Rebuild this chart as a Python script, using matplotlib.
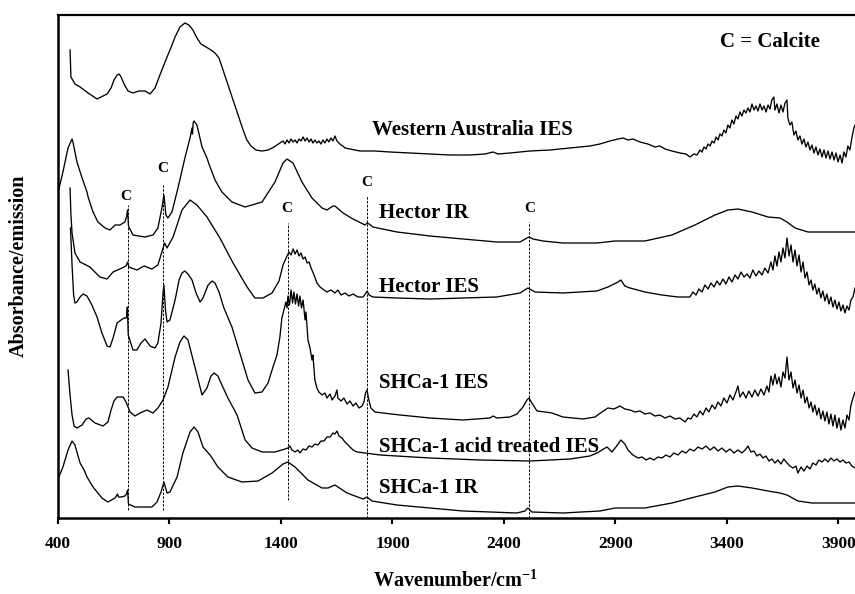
import numpy as np
import matplotlib
matplotlib.use("Agg")
import matplotlib.pyplot as plt

plt.rcParams["font.family"] = ["Liberation Serif", "DejaVu Serif"]
plt.rcParams["font.weight"] = "bold"
plt.rcParams["mathtext.fontset"] = "custom"
plt.rcParams["mathtext.rm"] = "Liberation Serif"
plt.rcParams["mathtext.bf"] = "Liberation Serif:bold"

# (wavenumber / cm-1, stacked absorbance / emission in arbitrary units)
western_australia_ies = [
    (454, 4.68), (458, 4.41), (476, 4.34), (499, 4.31), (535, 4.25), (575, 4.19),
    (602, 4.22), (620, 4.24), (638, 4.30), (651, 4.38), (665, 4.43), (674, 4.44),
    (683, 4.41), (696, 4.34), (714, 4.27), (736, 4.25), (763, 4.27), (790, 4.27),
    (813, 4.24), (835, 4.30), (857, 4.43), (880, 4.56), (902, 4.68), (925, 4.81),
    (947, 4.91), (969, 4.95), (987, 4.93), (1005, 4.88), (1023, 4.80), (1041, 4.74),
    (1064, 4.71), (1086, 4.68), (1104, 4.65), (1122, 4.60), (1140, 4.48), (1162, 4.33),
    (1185, 4.18), (1207, 4.03), (1230, 3.88), (1247, 3.78), (1265, 3.72), (1288, 3.68),
    (1315, 3.67), (1342, 3.68), (1369, 3.71), (1395, 3.75), (1409, 3.77), (1418, 3.74),
    (1427, 3.78), (1436, 3.75), (1445, 3.79), (1454, 3.76), (1463, 3.78), (1472, 3.75),
    (1481, 3.79), (1490, 3.77), (1499, 3.81), (1508, 3.77), (1517, 3.80), (1526, 3.76),
    (1535, 3.79), (1543, 3.75), (1552, 3.78), (1561, 3.75), (1570, 3.77), (1579, 3.74),
    (1588, 3.78), (1597, 3.75), (1606, 3.79), (1615, 3.76), (1624, 3.80), (1633, 3.77),
    (1642, 3.82), (1651, 3.77), (1660, 3.75), (1669, 3.73), (1678, 3.72), (1687, 3.70),
    (1709, 3.69), (1754, 3.67), (1821, 3.67), (1889, 3.66), (1978, 3.65), (2068, 3.64),
    (2158, 3.63), (2247, 3.63), (2315, 3.64), (2351, 3.66), (2373, 3.64), (2427, 3.65),
    (2516, 3.67), (2606, 3.68), (2696, 3.70), (2785, 3.72), (2830, 3.74), (2875, 3.77),
    (2911, 3.79), (2934, 3.80), (2956, 3.78), (2978, 3.79), (3010, 3.76), (3045, 3.74),
    (3077, 3.71), (3099, 3.72), (3122, 3.69), (3153, 3.67), (3189, 3.65), (3216, 3.64),
    (3234, 3.61), (3252, 3.64), (3265, 3.63), (3279, 3.68), (3288, 3.66), (3297, 3.71),
    (3306, 3.69), (3315, 3.74), (3324, 3.72), (3333, 3.77), (3342, 3.75), (3351, 3.81),
    (3360, 3.78), (3368, 3.84), (3377, 3.82), (3386, 3.88), (3395, 3.85), (3404, 3.93),
    (3413, 3.90), (3422, 3.98), (3431, 3.94), (3440, 4.02), (3449, 3.99), (3458, 4.06),
    (3467, 4.02), (3476, 4.08), (3485, 4.05), (3494, 4.10), (3503, 4.06), (3512, 4.14),
    (3521, 4.08), (3530, 4.12), (3539, 4.07), (3548, 4.14), (3557, 4.08), (3566, 4.12),
    (3575, 4.06), (3584, 4.13), (3593, 4.09), (3601, 4.18), (3610, 4.21), (3615, 4.08),
    (3624, 4.14), (3633, 4.05), (3642, 4.13), (3651, 4.06), (3660, 4.15), (3669, 4.18),
    (3673, 4.00), (3682, 3.93), (3691, 3.96), (3700, 3.83), (3709, 3.87), (3718, 3.78),
    (3727, 3.82), (3736, 3.74), (3745, 3.79), (3754, 3.71), (3763, 3.76), (3772, 3.68),
    (3781, 3.73), (3790, 3.65), (3799, 3.71), (3808, 3.63), (3817, 3.69), (3826, 3.61),
    (3835, 3.68), (3844, 3.60), (3853, 3.67), (3862, 3.59), (3871, 3.66), (3880, 3.58),
    (3889, 3.65), (3898, 3.56), (3907, 3.63), (3916, 3.55), (3924, 3.66), (3933, 3.61),
    (3942, 3.72), (3951, 3.68), (3960, 3.80), (3969, 3.90), (3974, 3.93),
]

hector_ir = [
    (404, 3.29), (422, 3.46), (445, 3.70), (463, 3.79), (467, 3.76), (485, 3.56),
    (508, 3.40), (530, 3.26), (535, 3.21), (557, 3.06), (579, 2.96), (611, 2.90),
    (633, 2.88), (656, 2.93), (678, 2.93), (700, 2.96), (707, 3.01), (712, 3.08),
    (716, 2.92), (736, 2.83), (790, 2.81), (826, 2.83), (848, 2.90), (866, 3.10),
    (875, 3.23), (884, 3.03), (893, 3.00), (911, 3.06), (938, 3.30), (969, 3.60),
    (992, 3.80), (1001, 3.90), (1003, 3.84), (1006, 3.95), (1010, 3.97), (1023, 3.93),
    (1046, 3.71), (1068, 3.60), (1082, 3.51), (1104, 3.38), (1135, 3.26), (1180, 3.16),
    (1239, 3.11), (1315, 3.16), (1373, 3.36), (1409, 3.55), (1427, 3.59), (1454, 3.55),
    (1494, 3.36), (1539, 3.20), (1584, 3.10), (1606, 3.08), (1633, 3.12), (1642, 3.12),
    (1678, 3.05), (1723, 2.99), (1777, 2.93), (1786, 2.95), (1795, 2.94), (1812, 2.91),
    (1920, 2.86), (2068, 2.82), (2216, 2.79), (2368, 2.76), (2472, 2.76), (2503, 2.80),
    (2512, 2.81), (2530, 2.79), (2575, 2.77), (2664, 2.75), (2817, 2.75), (2898, 2.77),
    (3032, 2.77), (3153, 2.83), (3256, 2.93), (3346, 3.03), (3404, 3.08), (3449, 3.09),
    (3512, 3.06), (3584, 3.01), (3637, 3.00), (3669, 2.96), (3705, 2.90), (3763, 2.86),
    (3853, 2.86), (3974, 2.86),
]

hector_ies = [
    (454, 3.30), (458, 3.03), (463, 2.85), (476, 2.65), (499, 2.56), (543, 2.51),
    (588, 2.41), (620, 2.39), (647, 2.46), (687, 2.50), (705, 2.52), (712, 2.56),
    (718, 2.51), (754, 2.48), (786, 2.52), (821, 2.49), (848, 2.53), (866, 2.66),
    (878, 2.75), (889, 2.70), (916, 2.81), (956, 3.08), (992, 3.18), (1023, 3.13),
    (1068, 3.01), (1126, 2.80), (1185, 2.55), (1248, 2.31), (1283, 2.20), (1319, 2.20),
    (1360, 2.25), (1391, 2.37), (1409, 2.53), (1427, 2.62), (1436, 2.66), (1445, 2.63),
    (1454, 2.69), (1463, 2.64), (1472, 2.68), (1481, 2.62), (1490, 2.65), (1499, 2.59),
    (1508, 2.61), (1517, 2.55), (1526, 2.56), (1535, 2.50), (1548, 2.43), (1561, 2.35),
    (1575, 2.31), (1593, 2.28), (1606, 2.26), (1624, 2.28), (1642, 2.25), (1655, 2.28),
    (1669, 2.23), (1687, 2.25), (1705, 2.22), (1723, 2.24), (1745, 2.21), (1768, 2.21),
    (1781, 2.25), (1786, 2.27), (1795, 2.23), (1812, 2.21), (1920, 2.20), (2068, 2.19),
    (2216, 2.20), (2368, 2.21), (2472, 2.25), (2507, 2.30), (2539, 2.26), (2664, 2.25),
    (2817, 2.27), (2866, 2.31), (2893, 2.34), (2911, 2.36), (2924, 2.38), (2942, 2.32),
    (2965, 2.30), (3032, 2.26), (3108, 2.23), (3180, 2.21), (3234, 2.21), (3247, 2.26),
    (3261, 2.23), (3274, 2.29), (3288, 2.26), (3301, 2.33), (3315, 2.29), (3328, 2.35),
    (3342, 2.31), (3355, 2.37), (3368, 2.33), (3382, 2.39), (3395, 2.34), (3409, 2.41),
    (3422, 2.36), (3436, 2.43), (3449, 2.39), (3463, 2.46), (3476, 2.41), (3490, 2.44),
    (3503, 2.40), (3516, 2.48), (3530, 2.42), (3543, 2.47), (3557, 2.43), (3570, 2.50),
    (3584, 2.45), (3597, 2.56), (3606, 2.48), (3615, 2.62), (3624, 2.52), (3633, 2.66),
    (3642, 2.56), (3651, 2.70), (3660, 2.60), (3669, 2.80), (3678, 2.62), (3687, 2.73),
    (3696, 2.56), (3705, 2.68), (3714, 2.52), (3723, 2.63), (3732, 2.46), (3741, 2.56),
    (3750, 2.40), (3759, 2.46), (3768, 2.33), (3777, 2.38), (3785, 2.28), (3794, 2.34),
    (3803, 2.24), (3812, 2.30), (3821, 2.20), (3830, 2.27), (3839, 2.17), (3848, 2.24),
    (3857, 2.14), (3866, 2.21), (3875, 2.11), (3884, 2.18), (3893, 2.09), (3902, 2.16),
    (3911, 2.07), (3920, 2.13), (3929, 2.05), (3938, 2.12), (3947, 2.08), (3956, 2.18),
    (3965, 2.21), (3974, 2.30),
]

shca1_ies = [
    (456, 2.90), (463, 2.53), (470, 2.23), (476, 2.15), (485, 2.16), (499, 2.21),
    (512, 2.24), (530, 2.22), (552, 2.13), (575, 2.01), (597, 1.85), (620, 1.72),
    (633, 1.71), (647, 1.80), (665, 1.95), (683, 1.98), (696, 2.00), (707, 2.00),
    (711, 2.11), (715, 1.83), (736, 1.68), (754, 1.68), (772, 1.75), (790, 1.79),
    (813, 1.72), (835, 1.70), (848, 1.75), (862, 1.95), (871, 2.25), (875, 2.33),
    (882, 2.08), (889, 1.96), (902, 1.98), (925, 2.18), (943, 2.38), (956, 2.45),
    (969, 2.47), (983, 2.44), (1001, 2.38), (1019, 2.25), (1037, 2.16), (1050, 2.20),
    (1073, 2.33), (1091, 2.37), (1104, 2.35), (1122, 2.26), (1144, 2.10), (1180, 1.91),
    (1225, 1.58), (1252, 1.38), (1283, 1.25), (1315, 1.26), (1342, 1.35), (1364, 1.51),
    (1382, 1.63), (1395, 1.81), (1404, 2.00), (1413, 2.08), (1422, 2.16), (1427, 2.10),
    (1431, 2.22), (1438, 2.13), (1445, 2.28), (1452, 2.15), (1458, 2.26), (1465, 2.14),
    (1472, 2.24), (1479, 2.12), (1485, 2.22), (1492, 2.10), (1499, 2.18), (1508, 1.98),
    (1512, 2.06), (1521, 1.78), (1530, 1.70), (1539, 1.58), (1543, 1.63), (1552, 1.38),
    (1561, 1.30), (1570, 1.26), (1584, 1.23), (1597, 1.25), (1606, 1.20), (1620, 1.24),
    (1629, 1.18), (1642, 1.22), (1651, 1.28), (1655, 1.20), (1669, 1.17), (1682, 1.20),
    (1696, 1.14), (1709, 1.17), (1723, 1.12), (1736, 1.15), (1750, 1.10), (1763, 1.12),
    (1772, 1.16), (1779, 1.25), (1786, 1.28), (1792, 1.20), (1803, 1.10), (1821, 1.06),
    (1857, 1.05), (1934, 1.03), (2068, 1.00), (2216, 0.98), (2337, 1.00), (2351, 1.02),
    (2368, 1.00), (2427, 1.01), (2458, 1.04), (2485, 1.11), (2503, 1.18), (2512, 1.20),
    (2525, 1.15), (2548, 1.07), (2584, 1.06), (2615, 1.05), (2664, 1.01), (2754, 0.99),
    (2808, 1.01), (2839, 1.06), (2866, 1.10), (2893, 1.09), (2920, 1.12), (2942, 1.09),
    (2965, 1.08), (2987, 1.06), (3010, 1.07), (3032, 1.04), (3054, 1.05), (3077, 1.02),
    (3099, 1.03), (3122, 1.00), (3144, 1.02), (3167, 0.99), (3189, 1.00), (3212, 0.96),
    (3225, 1.00), (3238, 0.99), (3252, 1.04), (3265, 1.01), (3279, 1.07), (3292, 1.03),
    (3306, 1.10), (3319, 1.06), (3333, 1.13), (3346, 1.09), (3360, 1.16), (3373, 1.12),
    (3386, 1.20), (3400, 1.15), (3413, 1.23), (3427, 1.18), (3440, 1.26), (3449, 1.32),
    (3458, 1.21), (3472, 1.26), (3485, 1.20), (3498, 1.27), (3512, 1.21), (3525, 1.28),
    (3539, 1.22), (3552, 1.29), (3566, 1.23), (3579, 1.32), (3588, 1.26), (3597, 1.42),
    (3606, 1.33), (3615, 1.44), (3624, 1.34), (3633, 1.41), (3642, 1.31), (3651, 1.46),
    (3660, 1.40), (3669, 1.61), (3678, 1.38), (3687, 1.46), (3696, 1.30), (3705, 1.38),
    (3714, 1.25), (3723, 1.33), (3732, 1.20), (3741, 1.28), (3750, 1.15), (3759, 1.21),
    (3768, 1.10), (3777, 1.16), (3785, 1.06), (3794, 1.13), (3803, 1.03), (3812, 1.10),
    (3821, 0.99), (3830, 1.07), (3839, 0.97), (3848, 1.06), (3857, 0.94), (3866, 1.04),
    (3875, 0.92), (3884, 1.03), (3893, 0.90), (3902, 1.00), (3911, 0.88), (3920, 0.98),
    (3929, 0.90), (3938, 1.03), (3947, 0.98), (3956, 1.13), (3965, 1.20), (3974, 1.26),
]

shca1_acid_ies = [
    (445, 1.48), (454, 1.23), (463, 1.03), (472, 0.92), (485, 0.90), (508, 0.93),
    (526, 0.99), (539, 1.00), (566, 0.95), (602, 0.92), (624, 0.96), (638, 1.08),
    (651, 1.17), (665, 1.21), (692, 1.21), (705, 1.16), (723, 1.06), (745, 1.02),
    (768, 1.05), (799, 1.08), (826, 1.05), (848, 1.10), (871, 1.18), (893, 1.31),
    (925, 1.61), (947, 1.76), (965, 1.82), (983, 1.78), (1014, 1.51), (1046, 1.23),
    (1068, 1.30), (1086, 1.42), (1100, 1.45), (1117, 1.42), (1135, 1.33), (1162, 1.20),
    (1203, 1.03), (1239, 0.78), (1270, 0.70), (1315, 0.66), (1373, 0.66), (1418, 0.69),
    (1431, 0.70), (1440, 0.72), (1449, 0.68), (1463, 0.66), (1476, 0.68), (1485, 0.65),
    (1499, 0.69), (1512, 0.68), (1526, 0.72), (1539, 0.71), (1552, 0.74), (1566, 0.73),
    (1579, 0.77), (1593, 0.77), (1606, 0.81), (1620, 0.81), (1633, 0.85), (1642, 0.84),
    (1651, 0.87), (1660, 0.82), (1673, 0.80), (1687, 0.76), (1705, 0.72), (1723, 0.68),
    (1741, 0.66), (1777, 0.65), (1844, 0.63), (2068, 0.60), (2292, 0.58), (2516, 0.57),
    (2696, 0.59), (2785, 0.62), (2817, 0.65), (2839, 0.68), (2862, 0.71), (2884, 0.66),
    (2902, 0.71), (2924, 0.78), (2942, 0.74), (2956, 0.68), (2978, 0.63), (3001, 0.60),
    (3019, 0.61), (3037, 0.58), (3054, 0.60), (3072, 0.58), (3090, 0.61), (3108, 0.60),
    (3126, 0.63), (3144, 0.61), (3162, 0.65), (3180, 0.63), (3198, 0.67), (3216, 0.65),
    (3234, 0.69), (3252, 0.67), (3270, 0.71), (3288, 0.69), (3306, 0.72), (3324, 0.68),
    (3342, 0.71), (3360, 0.67), (3377, 0.70), (3395, 0.66), (3413, 0.69), (3431, 0.65),
    (3449, 0.68), (3467, 0.65), (3485, 0.69), (3494, 0.72), (3507, 0.66), (3521, 0.67),
    (3534, 0.62), (3548, 0.64), (3561, 0.60), (3575, 0.62), (3588, 0.57), (3601, 0.59),
    (3615, 0.55), (3628, 0.58), (3642, 0.54), (3655, 0.59), (3669, 0.55), (3682, 0.52),
    (3696, 0.50), (3709, 0.52), (3718, 0.45), (3732, 0.51), (3745, 0.47), (3759, 0.52),
    (3772, 0.49), (3785, 0.55), (3799, 0.53), (3812, 0.58), (3826, 0.56), (3839, 0.59),
    (3853, 0.56), (3866, 0.60), (3880, 0.57), (3893, 0.59), (3907, 0.56), (3920, 0.58),
    (3933, 0.55), (3947, 0.56), (3960, 0.52), (3974, 0.50),
]

shca1_ir = [
    (404, 0.41), (422, 0.51), (445, 0.68), (463, 0.77), (476, 0.73), (499, 0.55),
    (517, 0.48), (530, 0.41), (557, 0.31), (597, 0.20), (624, 0.16), (656, 0.20),
    (667, 0.24), (671, 0.21), (683, 0.21), (700, 0.22), (707, 0.24), (712, 0.28),
    (716, 0.14), (745, 0.11), (821, 0.11), (844, 0.16), (862, 0.26), (875, 0.36),
    (889, 0.25), (902, 0.26), (934, 0.41), (960, 0.65), (992, 0.86), (1010, 0.91),
    (1028, 0.86), (1050, 0.71), (1082, 0.63), (1117, 0.51), (1162, 0.41), (1225, 0.36),
    (1297, 0.37), (1360, 0.45), (1409, 0.54), (1431, 0.56), (1463, 0.51), (1521, 0.38),
    (1584, 0.30), (1611, 0.30), (1642, 0.33), (1696, 0.25), (1768, 0.19), (1786, 0.21),
    (1808, 0.17), (1920, 0.13), (2068, 0.10), (2216, 0.07), (2458, 0.05), (2494, 0.07),
    (2507, 0.10), (2525, 0.06), (2664, 0.05), (2830, 0.07), (2898, 0.10), (3032, 0.10),
    (3153, 0.15), (3256, 0.21), (3346, 0.26), (3404, 0.31), (3449, 0.32), (3512, 0.30),
    (3584, 0.27), (3637, 0.25), (3669, 0.23), (3718, 0.17), (3781, 0.15), (3974, 0.15),
]

spectra = [western_australia_ies, hector_ir, hector_ies,
           shca1_ies, shca1_acid_ies, shca1_ir]

# spectrum labels: text, left edge (cm-1), baseline
labels = ["Western Australia IES", "Hector IR", "Hector IES",
          "SHCa-1 IES", "SHCa-1 acid treated IES", "SHCa-1 IR"]
label_wn = [1808, 1839, 1839, 1839, 1839, 1839]
label_y = [3.83, 3.00, 2.26, 1.30, 0.66, 0.25]

# calcite bands: line position, dashed extent, "C" marker position
calcite_wn = [712, 872, 1433, 1784, 2513]
calcite_top = [3.13, 3.33, 2.95, 3.22, 2.96]
calcite_bottom = [0.08, 0.08, 0.18, 0.0, 0.0]
calcite_label_wn = [703, 869, 1427, 1786, 2516]
calcite_label_y = [3.22, 3.50, 3.10, 3.36, 3.10]

fig = plt.figure(figsize=(8.55, 5.94), dpi=100)
ax = fig.add_axes([58 / 855, 76 / 594, 1 - 58 / 855, 503 / 594])

for spec in spectra:
    wn, val = np.array(spec).T
    ax.plot(wn, val, color="black", lw=0.95)

for x, y0, y1 in zip(calcite_wn, calcite_bottom, calcite_top):
    ax.plot([x, x], [y0, y1], color="black", lw=0.7, ls=(0, (2.5, 1.5)))
for x, y in zip(calcite_label_wn, calcite_label_y):
    ax.text(x, y, "C", fontsize=11, fontweight="bold", ha="center", va="center")

for txt, x, y in zip(labels, label_wn, label_y):
    ax.text(x, y, txt, fontsize=15, fontweight="bold", ha="left", va="baseline")
ax.text(3368, 4.71, "C = Calcite", fontsize=15, fontweight="bold",
        ha="left", va="baseline")

ax.set_xlim(400, 3974)
ax.set_ylim(0, 5.03)
ax.set_xticks(np.arange(400, 4000, 500))
ax.set_yticks([])
ax.tick_params(axis="x", direction="out", length=4, width=1.5, pad=9, labelsize=12.5)
for lbl in ax.get_xticklabels():
    lbl.set_fontweight("bold")

ax.spines["right"].set_visible(False)
ax.spines["left"].set_linewidth(1.8)
ax.spines["bottom"].set_linewidth(1.8)
ax.spines["top"].set_linewidth(1.6)

fig.text(19 / 855, 1 - 266 / 594, "Absorbance/emission", rotation=90,
         fontsize=14.5, fontweight="bold", ha="center", va="center")
fig.text(456 / 855, 7 / 594, r"Wavenumber/cm$^{\mathbf{-1}}$",
         fontsize=14.5, fontweight="bold", ha="center", va="baseline")

fig.savefig("out.png", dpi=100)
